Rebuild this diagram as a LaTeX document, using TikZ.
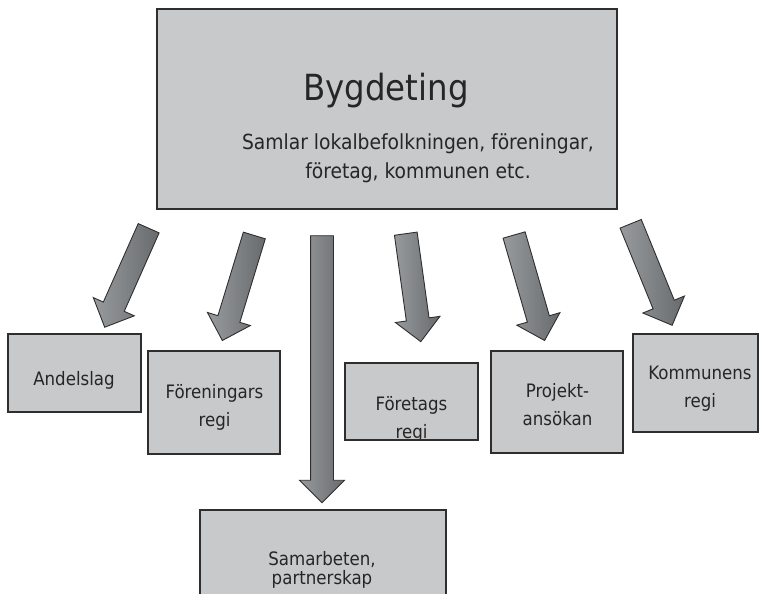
\documentclass[tikz,border=0pt]{standalone}
\usepackage{fontspec}
\setmainfont{DejaVu Sans Condensed}
\usetikzlibrary{calc,shapes.arrows}
\definecolor{boxgray}{HTML}{C8C9CB}
\definecolor{linegray}{HTML}{2E2E2E}
\definecolor{arrowtop}{HTML}{989B9D}
\definecolor{arrowtip}{HTML}{686B6D}
\definecolor{txtgray}{HTML}{262626}
\tikzset{
  box/.style={draw=linegray,line width=1.5pt,fill=boxgray,inner sep=0pt},
  txt/.style={text=txtgray,align=center,anchor=base,font=\fontsize{18.5}{28}\selectfont},
  fatarrow/.style={single arrow,draw=linegray,line width=0.9pt,
    inner xsep=0pt,inner ysep=11pt,single arrow head extend=11pt,
    left color=arrowtop,right color=arrowtip}
}
\newcommand\blockarrow[2]{%
  \path let \p1=($(#2)-(#1)$), \n1={atan2(\y1,\x1)}, \n2={veclen(\x1,\y1)} in
    node[fatarrow,minimum height=\n2,rotate=\n1] (#1-arr) at ($(#1)!0.5!(#2)$) {};}

\begin{document}
\begin{tikzpicture}[x=1pt,y=-1pt]
  \useasboundingbox (0,0) rectangle (760,594);
  % boxes
  \node[box,minimum width=460,minimum height=200] (ting) at (387,109) {};
  \node[box,minimum width=133,minimum height=78] (andel) at (74.5,373) {};
  \node[box,minimum width=132,minimum height=103] (foren) at (214,402.5) {};
  \node[box,minimum width=246,minimum height=100] (samarb) at (323,560) {};
  \node[box,minimum width=133,minimum height=77,
    path picture={\node[txt] at ([yshift=-36.5pt]path picture bounding box.center)
      {Företags\\regi};}] (foretag) at (411.5,401.5) {};
  \node[box,minimum width=132,minimum height=102] (projekt) at (557,402) {};
  \node[box,minimum width=125,minimum height=98] (kommun) at (695.5,383) {};
  % texts (multi-line nodes sit on their last baseline)
  \node[txt,font=\fontsize{36}{40}\selectfont] (ting-t) at (386,100) {Bygdeting};
  \node[txt,font=\fontsize{20.8}{28.5}\selectfont] (ting-s) at (418,178)
    {Samlar lokalbefolkningen, föreningar,\\företag, kommunen etc.};
  \node[txt] (andel-t) at (74,385) {Andelslag};
  \node[txt] (foren-t) at (214.5,426) {Föreningars\\regi};
  \node[txt,font=\fontsize{18.5}{19}\selectfont] (samarb-t) at (322,584)
    {Samarbeten,\\partnerskap};
  \node[txt] (projekt-t) at (557.5,425) {Projekt-\\ansökan};
  \node[txt] (kommun-t) at (700,407) {Kommunens\\regi};
  % arrows
  \coordinate (a1) at (151,223);   \coordinate (a1h) at (107,322);
  \coordinate (a2) at (256,230);   \coordinate (a2h) at (224,335);
  \coordinate (a3) at (322,230);   \coordinate (a3h) at (322,497);
  \coordinate (a4) at (405,228);   \coordinate (a4h) at (420,336);
  \coordinate (a5) at (512.5,229.5); \coordinate (a5h) at (543,335);
  \coordinate (a6) at (628.5,218.5); \coordinate (a6h) at (670,320);
  \foreach \i in {1,...,6} {\blockarrow{a\i}{a\i h}}
\end{tikzpicture}
\end{document}
